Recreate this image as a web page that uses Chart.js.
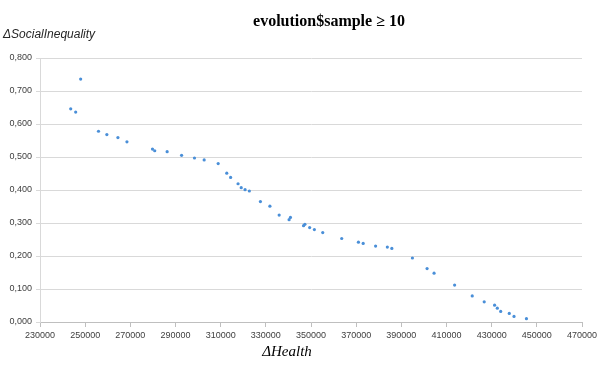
<!DOCTYPE html>
<html lang="en">
<head>
    <meta charset="UTF-8">
    <title>evolution$sample ≥ 10</title>
    <script src="https://cdn.jsdelivr.net/npm/chart.js"></script>
    <style>
        html, body { margin: 0; padding: 0; background: #fff; }
        #wrap { width: 605px; height: 367px; }
    </style>
</head>
<body>
    <div id="wrap">
        <canvas id="scatterChart" width="605" height="367"></canvas>
    </div>

    <script>
        // values
        const healthDelta = [243600, 245800, 248000, 255900, 259600, 264500, 268500, 279800, 280800, 286300,
            292700, 298400, 302700, 308900, 312700, 314400, 317700, 319100, 320800, 322700,
            327600, 331800, 335900, 340300, 340900, 346700, 347300, 349400, 351500, 355200,
            363600, 371000, 373100, 378600, 383800, 385800, 394900, 401400, 404500, 413600,
            421400, 426700, 431300, 432500, 434000, 437800, 439900, 445400];
        const inequalityDelta = [0.646, 0.636, 0.736, 0.578, 0.568, 0.559, 0.546, 0.524, 0.519, 0.516,
            0.505, 0.497, 0.491, 0.480, 0.451, 0.438, 0.419, 0.407, 0.401, 0.397,
            0.365, 0.351, 0.324, 0.310, 0.317, 0.292, 0.296, 0.286, 0.280, 0.271,
            0.253, 0.242, 0.238, 0.230, 0.227, 0.223, 0.194, 0.162, 0.148, 0.112,
            0.079, 0.061, 0.051, 0.042, 0.032, 0.026, 0.017, 0.010];
        const xTicks = [230000, 250000, 270000, 290000, 310000, 330000, 350000, 370000, 390000, 410000, 430000, 450000, 470000];
        const yTicks = [0, 0.1, 0.2, 0.3, 0.4, 0.5, 0.6, 0.7, 0.8];

        const points = healthDelta.map((x, i) => ({ x: x, y: inequalityDelta[i] }));

        // title and axis captions sit where the original put them (not centred on the plot)
        const captions = {
            id: 'captions',
            afterDraw(chart) {
                const ctx = chart.ctx;
                ctx.save();
                ctx.textBaseline = 'middle';
                ctx.fillStyle = '#000';
                ctx.textAlign = 'center';
                ctx.font = 'bold 16px "Liberation Serif"';
                ctx.fillText('evolution$sample ≥ 10', 329, 22);
                ctx.font = 'italic 15px "Liberation Serif"';
                ctx.fillText('ΔHealth', 287, 352);
                ctx.textAlign = 'left';
                ctx.font = 'italic 12px "Liberation Sans"';
                ctx.fillStyle = '#262626';
                ctx.fillText('ΔSocialInequality', 3, 35);
                ctx.restore();
            }
        };

        new Chart(document.getElementById('scatterChart'), {
            type: 'scatter',
            data: {
                datasets: [{
                    data: points,
                    backgroundColor: '#4a8fd8',
                    borderColor: '#4a8fd8',
                    pointRadius: 1.6,
                    pointHoverRadius: 1.6,
                    borderWidth: 0
                }]
            },
            options: {
                responsive: false,
                animation: false,
                devicePixelRatio: 1,
                layout: { padding: { top: 58, right: 23, bottom: 0, left: 0 } },
                plugins: {
                    legend: { display: false },
                    tooltip: { enabled: false }
                },
                scales: {
                    x: {
                        type: 'linear',
                        min: 230000,
                        max: 470000,
                        afterBuildTicks: axis => { axis.ticks = xTicks.map(v => ({ value: v })); },
                        afterFit: scale => { scale.height = 45; },
                        grid: { drawOnChartArea: false, drawTicks: true, tickLength: 5, color: '#bfbfbf' },
                        border: { color: '#bfbfbf' },
                        ticks: {
                            maxRotation: 0,
                            autoSkip: false,
                            padding: 3,
                            color: '#404040',
                            font: { family: 'Liberation Sans', size: 9 },
                            callback: v => String(v)
                        }
                    },
                    y: {
                        min: 0,
                        max: 0.8,
                        afterBuildTicks: axis => { axis.ticks = yTicks.map(v => ({ value: v })); },
                        afterFit: scale => { scale.width = 40; },
                        grid: { color: '#d9d9d9', lineWidth: 1, tickLength: 4 },
                        border: { color: '#d9d9d9' },
                        ticks: {
                            padding: 4,
                            color: '#404040',
                            font: { family: 'Liberation Sans', size: 9 },
                            callback: v => v.toFixed(3).replace('.', ',')
                        }
                    }
                }
            },
            plugins: [captions]
        });
    </script>
</body>
</html>
